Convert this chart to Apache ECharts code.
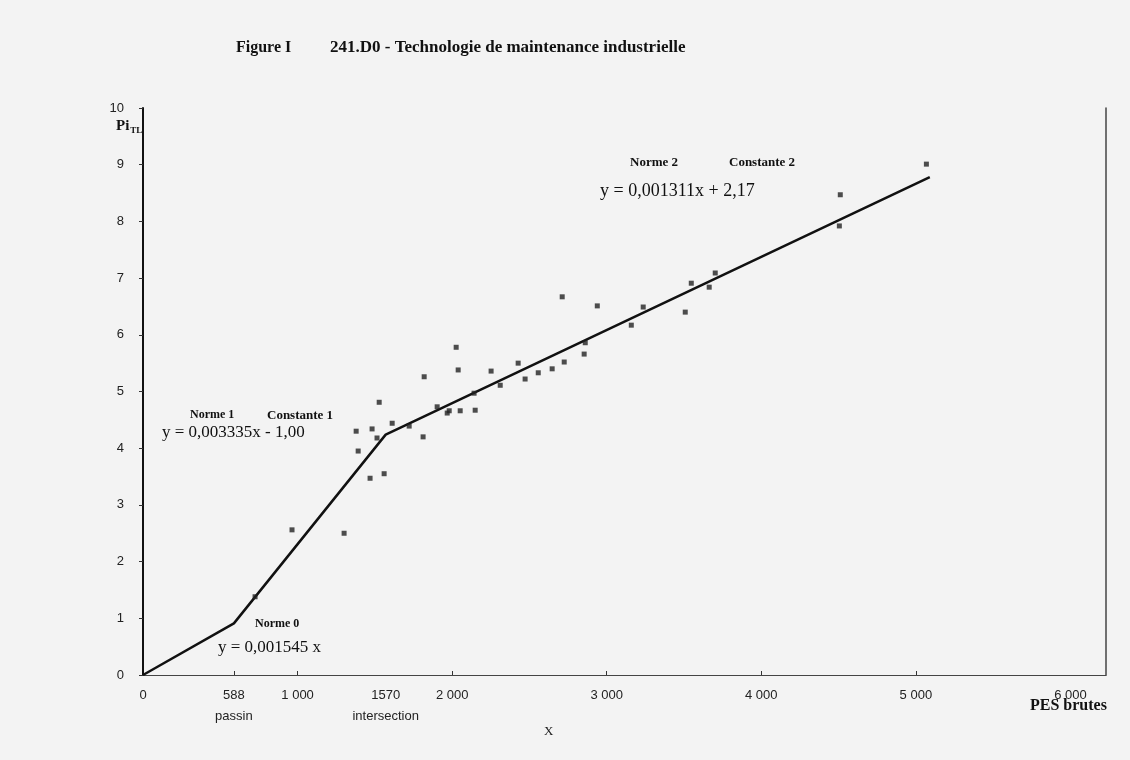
<!DOCTYPE html>
<html>
<head>
<meta charset="utf-8">
<script src="https://cdn.jsdelivr.net/npm/echarts@6/dist/echarts.min.js"></script>
<style>
html,body{margin:0;padding:0;background:#f3f3f3;}
#c{width:1130px;height:760px;}
</style>
</head>
<body>
<div id="c"></div>
<script>
// Observed points (PES brutes, Pi_TL)
const pointsX = [725, 964, 1301, 1379, 1392, 1469, 1482, 1514, 1528, 1560, 1612, 1722, 1812, 1819, 1903, 1968, 1981, 2026, 2039, 2052, 2142, 2149, 2252, 2311, 2427, 2472, 2557, 2647, 2712, 2725, 2854, 2861, 2939, 3159, 3236, 3508, 3547, 3663, 3702, 4505, 4511, 5068];
const pointsY = [1.38, 2.56, 2.50, 4.30, 3.95, 3.47, 4.34, 4.18, 4.81, 3.55, 4.44, 4.39, 4.20, 5.26, 4.73, 4.62, 4.66, 5.78, 5.38, 4.66, 4.97, 4.67, 5.36, 5.11, 5.50, 5.22, 5.33, 5.40, 6.67, 5.52, 5.66, 5.86, 6.51, 6.17, 6.49, 6.40, 6.91, 6.84, 7.09, 7.92, 8.47, 9.01];

// Piecewise fitted line (Norme 0 / Norme 1 / Norme 2)
const fitX = [0, 588, 1570, 5090];
const fitY = [0, 0.91, 4.24, 8.78];

// X axis labels
const xLabelValues = [0, 588, 1000, 1570, 2000, 3000, 4000, 5000, 6000];
const xLabelTexts = ['0', '588\npassin', '1 000', '1570\nintersection', '2 000', '3 000', '4 000', '5 000', '6 000'];
const xTickValues = [588, 1000, 2000, 3000, 4000, 5000];

const chart = echarts.init(document.getElementById('c'));
const serif = 'Liberation Serif';
const sans = 'Liberation Sans';

const scatterData = pointsX.map((x, i) => [x, pointsY[i]]);
const fitData = fitX.map((x, i) => [x, fitY[i]]);

chart.setOption({
  backgroundColor: '#f3f3f3',
  animation: false,
  title: [
    { text: 'Figure I', left: 231, top: 35, textStyle: { fontFamily: serif, fontWeight: 'bold', fontSize: 16, color: '#111' } },
    { text: '241.D0 - Technologie de maintenance industrielle', left: 325, top: 34, textStyle: { fontFamily: serif, fontWeight: 'bold', fontSize: 17, color: '#111' } }
  ],
  grid: { left: 143, top: 108, right: 24, bottom: 85, containLabel: false },
  xAxis: {
    type: 'value', min: 0, max: 6230, interval: 1000,
    axisLine: { show: true, lineStyle: { color: '#444', width: 1.2 } },
    axisTick: { show: true, inside: true, length: 4, customValues: xTickValues, lineStyle: { color: '#333' } },
    splitLine: { show: false },
    axisLabel: {
      customValues: xLabelValues,
      margin: 10,
      fontFamily: sans, fontSize: 13, color: '#222', lineHeight: 21,
      formatter: function (v) { const i = xLabelValues.indexOf(v); return i >= 0 ? xLabelTexts[i] : ''; }
    }
  },
  yAxis: [
    {
      type: 'value', min: 0, max: 10, interval: 1,
      axisLine: { show: true, lineStyle: { color: '#111', width: 2 } },
      axisTick: { show: true, length: 4, lineStyle: { color: '#333' } },
      splitLine: { show: false },
      axisLabel: { margin: 19, fontFamily: sans, fontSize: 13, color: '#222' }
    },
    {
      type: 'value', min: 0, max: 10, position: 'right',
      axisLine: { show: true, lineStyle: { color: '#444', width: 1.5 } },
      axisTick: { show: false }, axisLabel: { show: false }, splitLine: { show: false }
    }
  ],
  series: [
    {
      type: 'line', data: fitData, symbol: 'none',
      lineStyle: { color: '#111', width: 2.5 }, z: 2
    },
    {
      type: 'scatter', data: scatterData, symbol: 'rect', symbolSize: 5,
      itemStyle: { color: '#222' }, z: 3
    }
  ],
  graphic: [
    { type: 'text', left: 116, top: 119, style: { text: '{a|Pi}{b|TL}', rich: { a: { fontFamily: serif, fontWeight: 'bold', fontSize: 15, fill: '#111' }, b: { fontFamily: serif, fontWeight: 'bold', fontSize: 9, fill: '#111', padding: [8, 0, 0, 1] } } } },
    { type: 'text', left: 190, top: 409, style: { text: 'Norme 1', fontFamily: serif, fontWeight: 'bold', fontSize: 12, fill: '#111' } },
    { type: 'text', left: 267, top: 409, style: { text: 'Constante 1', fontFamily: serif, fontWeight: 'bold', fontSize: 13, fill: '#111' } },
    { type: 'text', left: 162, top: 424, style: { text: 'y = 0,003335x - 1,00', fontFamily: serif, fontSize: 17, fill: '#111' } },
    { type: 'text', left: 255, top: 618, style: { text: 'Norme 0', fontFamily: serif, fontWeight: 'bold', fontSize: 12, fill: '#111' } },
    { type: 'text', left: 218, top: 639, style: { text: 'y = 0,001545 x', fontFamily: serif, fontSize: 17, fill: '#111' } },
    { type: 'text', left: 630, top: 156, style: { text: 'Norme 2', fontFamily: serif, fontWeight: 'bold', fontSize: 13, fill: '#111' } },
    { type: 'text', left: 729, top: 156, style: { text: 'Constante 2', fontFamily: serif, fontWeight: 'bold', fontSize: 13, fill: '#111' } },
    { type: 'text', left: 600, top: 182, style: { text: 'y = 0,001311x + 2,17', fontFamily: serif, fontSize: 18, fill: '#111' } },
    { type: 'text', left: 1030, top: 698, style: { text: 'PES brutes', fontFamily: serif, fontWeight: 'bold', fontSize: 16, fill: '#111' } },
    { type: 'text', left: 544, top: 725, style: { text: 'X', fontFamily: serif, fontSize: 13, fill: '#222' } }
  ]
});
</script>
</body>
</html>
